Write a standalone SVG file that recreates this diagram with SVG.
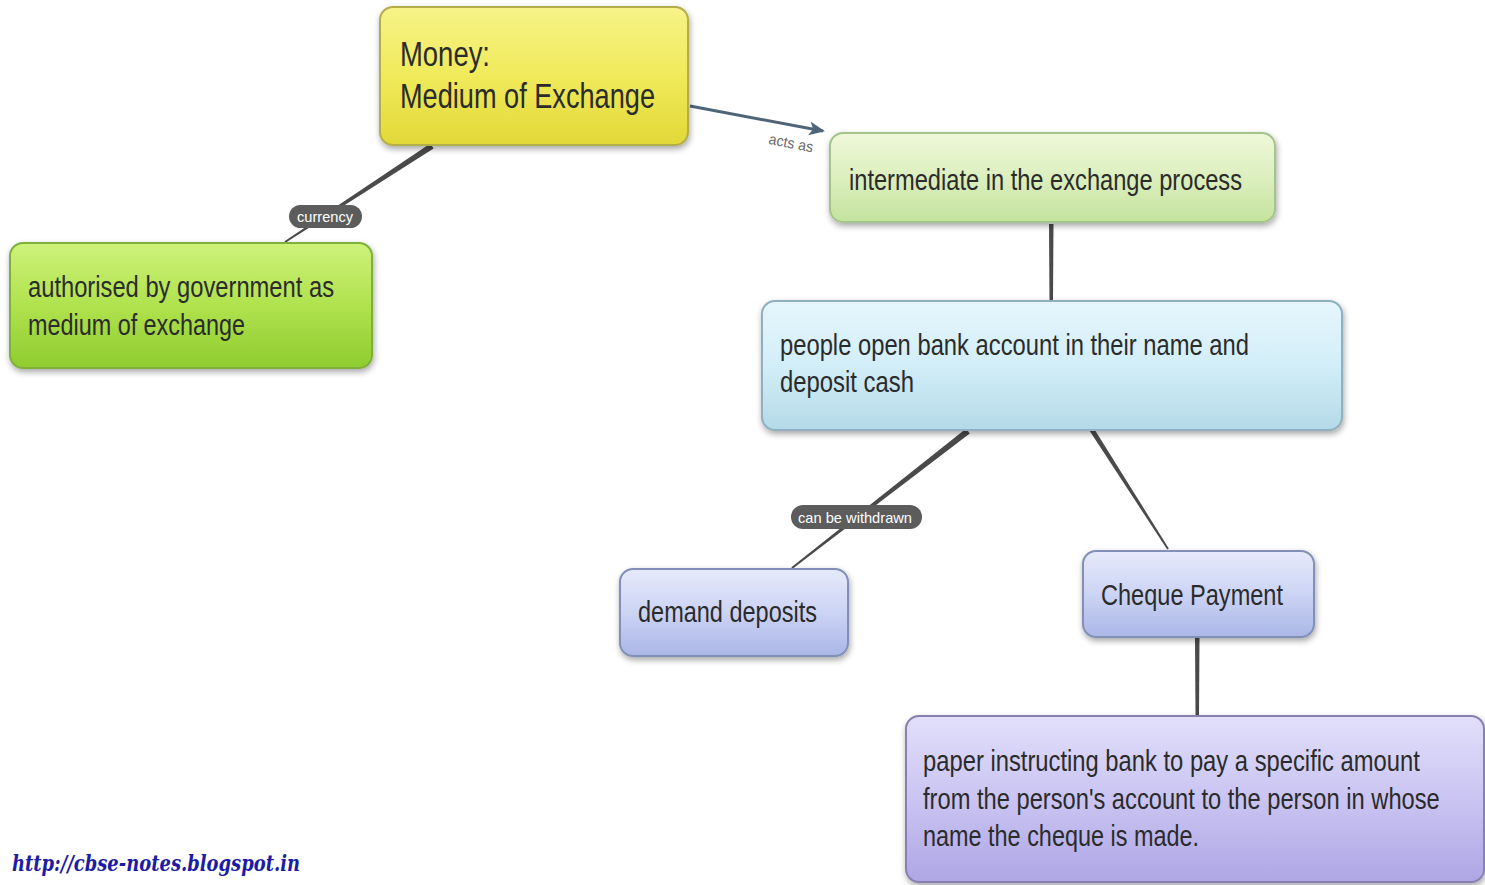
<svg xmlns="http://www.w3.org/2000/svg" width="1485" height="885" viewBox="0 0 1485 885">
<style>
.t{font-family:"Liberation Sans",Arial,sans-serif;fill:#2b2b2b}
.n{stroke-width:2}
.pill{fill:#5c5c5c}
.pt{font-family:"Liberation Sans",Arial,sans-serif;fill:#ffffff;font-size:15px}
.ln{fill:#4a4a4a}
</style>
<defs>
<filter id="sh" x="-10%" y="-10%" width="125%" height="135%">
<feDropShadow dx="1" dy="3" stdDeviation="3" flood-color="#000" flood-opacity="0.35"/>
</filter>
<linearGradient id="gY" x1="0" y1="0" x2="0" y2="1"><stop offset="0" stop-color="#f7f388"/><stop offset="0.5" stop-color="#f0ea5a"/><stop offset="1" stop-color="#e2d838"/></linearGradient>
<linearGradient id="gG" x1="0" y1="0" x2="0" y2="1"><stop offset="0" stop-color="#cdf27a"/><stop offset="0.5" stop-color="#b0e24e"/><stop offset="1" stop-color="#8fcc2e"/></linearGradient>
<linearGradient id="gLG" x1="0" y1="0" x2="0" y2="1"><stop offset="0" stop-color="#eef8da"/><stop offset="0.5" stop-color="#dcefbe"/><stop offset="1" stop-color="#c4e29e"/></linearGradient>
<linearGradient id="gB" x1="0" y1="0" x2="0" y2="1"><stop offset="0" stop-color="#e6f6fc"/><stop offset="0.5" stop-color="#d2eef8"/><stop offset="1" stop-color="#b4d9e8"/></linearGradient>
<linearGradient id="gV" x1="0" y1="0" x2="0" y2="1"><stop offset="0" stop-color="#e6eafb"/><stop offset="0.5" stop-color="#ccd4f4"/><stop offset="1" stop-color="#aab6e6"/></linearGradient>
<linearGradient id="gP" x1="0" y1="0" x2="0" y2="1"><stop offset="0" stop-color="#e2dffa"/><stop offset="0.5" stop-color="#cac4f2"/><stop offset="1" stop-color="#aea6e4"/></linearGradient>
<marker id="arr" viewBox="0 0 16 14" refX="14" refY="7" markerWidth="16" markerHeight="14" markerUnits="userSpaceOnUse" orient="auto">
<path d="M0,0 L16,7 L0,14 L4,7 Z" fill="#4d6577"/>
</marker>
</defs>
<rect width="1485" height="885" fill="#ffffff"/>

<g id="connectors">
<polygon class="ln" points="430.4,143.5 433.6,148.5 285.5,242.8 284.5,241.2"/>
<line x1="690" y1="106" x2="823" y2="131" stroke="#4d6577" stroke-width="3" marker-end="url(#arr)"/>
<text x="768" y="148" font-family="Liberation Sans,Arial,sans-serif" font-size="15" fill="#6a6a6a" transform="rotate(11 790 146)" textLength="45" lengthAdjust="spacingAndGlyphs">acts as</text>
<polygon class="ln" points="1049,224 1053.5,224 1053,300 1049.5,300"/>
<polygon class="ln" points="966.2,428.6 969.8,433.4 792.6,568.8 791.4,567.2"/>
<polygon class="ln" points="1089.9,431.3 1094.1,428.7 1168.8,548.5 1167.2,549.5"/>
<polygon class="ln" points="1195,638 1199.5,638 1199,715 1195.5,715"/>
<rect class="pill" x="289" y="205" width="73" height="23" rx="11.5"/>
<text class="pt" x="297" y="221.5" font-size="14" textLength="56" lengthAdjust="spacingAndGlyphs">currency</text>
<rect class="pill" x="791" y="505" width="131" height="24" rx="12"/>
<text class="pt" x="798" y="522.5" textLength="114" lengthAdjust="spacingAndGlyphs">can be withdrawn</text>
</g>

<g id="money">
<rect x="380" y="7" width="308" height="138" rx="13" fill="url(#gY)" stroke="#b4ad4a" class="n" filter="url(#sh)"/>
<text class="t" x="400" y="66" font-size="35" textLength="90" lengthAdjust="spacingAndGlyphs">Money:</text>
<text class="t" x="400" y="108" font-size="35" textLength="255" lengthAdjust="spacingAndGlyphs">Medium of Exchange</text>
</g>

<g id="authorised">
<rect x="10" y="243" width="362" height="125" rx="13" fill="url(#gG)" stroke="#7fb03a" class="n" filter="url(#sh)"/>
<text class="t" x="28" y="297" font-size="30" textLength="306" lengthAdjust="spacingAndGlyphs">authorised by government as</text>
<text class="t" x="28" y="335" font-size="30" textLength="217" lengthAdjust="spacingAndGlyphs">medium of exchange</text>
</g>

<g id="intermediate">
<rect x="830" y="133" width="445" height="89" rx="13" fill="url(#gLG)" stroke="#a4c48c" class="n" filter="url(#sh)"/>
<text class="t" x="849" y="190" font-size="29" textLength="393" lengthAdjust="spacingAndGlyphs">intermediate in the exchange process</text>
</g>

<g id="people">
<rect x="762" y="301" width="580" height="129" rx="13" fill="url(#gB)" stroke="#8eb0c0" class="n" filter="url(#sh)"/>
<text class="t" x="780" y="355" font-size="29" textLength="469" lengthAdjust="spacingAndGlyphs">people open bank account in their name and</text>
<text class="t" x="780" y="392" font-size="29" textLength="134" lengthAdjust="spacingAndGlyphs">deposit cash</text>
</g>

<g id="demand">
<rect x="620" y="569" width="228" height="87" rx="13" fill="url(#gV)" stroke="#8090b8" class="n" filter="url(#sh)"/>
<text class="t" x="638" y="622" font-size="30" textLength="179" lengthAdjust="spacingAndGlyphs">demand deposits</text>
</g>

<g id="cheque">
<rect x="1083" y="551" width="231" height="86" rx="13" fill="url(#gV)" stroke="#8090b8" class="n" filter="url(#sh)"/>
<text class="t" x="1101" y="605" font-size="30" textLength="182" lengthAdjust="spacingAndGlyphs">Cheque Payment</text>
</g>

<g id="paper">
<rect x="906" y="716" width="578" height="166" rx="13" fill="url(#gP)" stroke="#8880b0" class="n" filter="url(#sh)"/>
<g transform="translate(923 0) scale(0.8 1)">
<text class="t" x="0" y="771" font-size="29" textLength="621" lengthAdjust="spacingAndGlyphs">paper instructing bank to pay a specific amount</text>
<text class="t" x="0" y="809" font-size="29" textLength="646" lengthAdjust="spacingAndGlyphs">from the person's account to the person in whose</text>
<text class="t" x="0" y="846" font-size="29" textLength="345" lengthAdjust="spacingAndGlyphs">name the cheque is made.</text>
</g>
</g>

<text x="12" y="871" font-family="DejaVu Serif,serif" font-style="italic" font-weight="bold" font-size="22" fill="#1c1ca6" textLength="288" lengthAdjust="spacingAndGlyphs">http://cbse-notes.blogspot.in</text>
</svg>
